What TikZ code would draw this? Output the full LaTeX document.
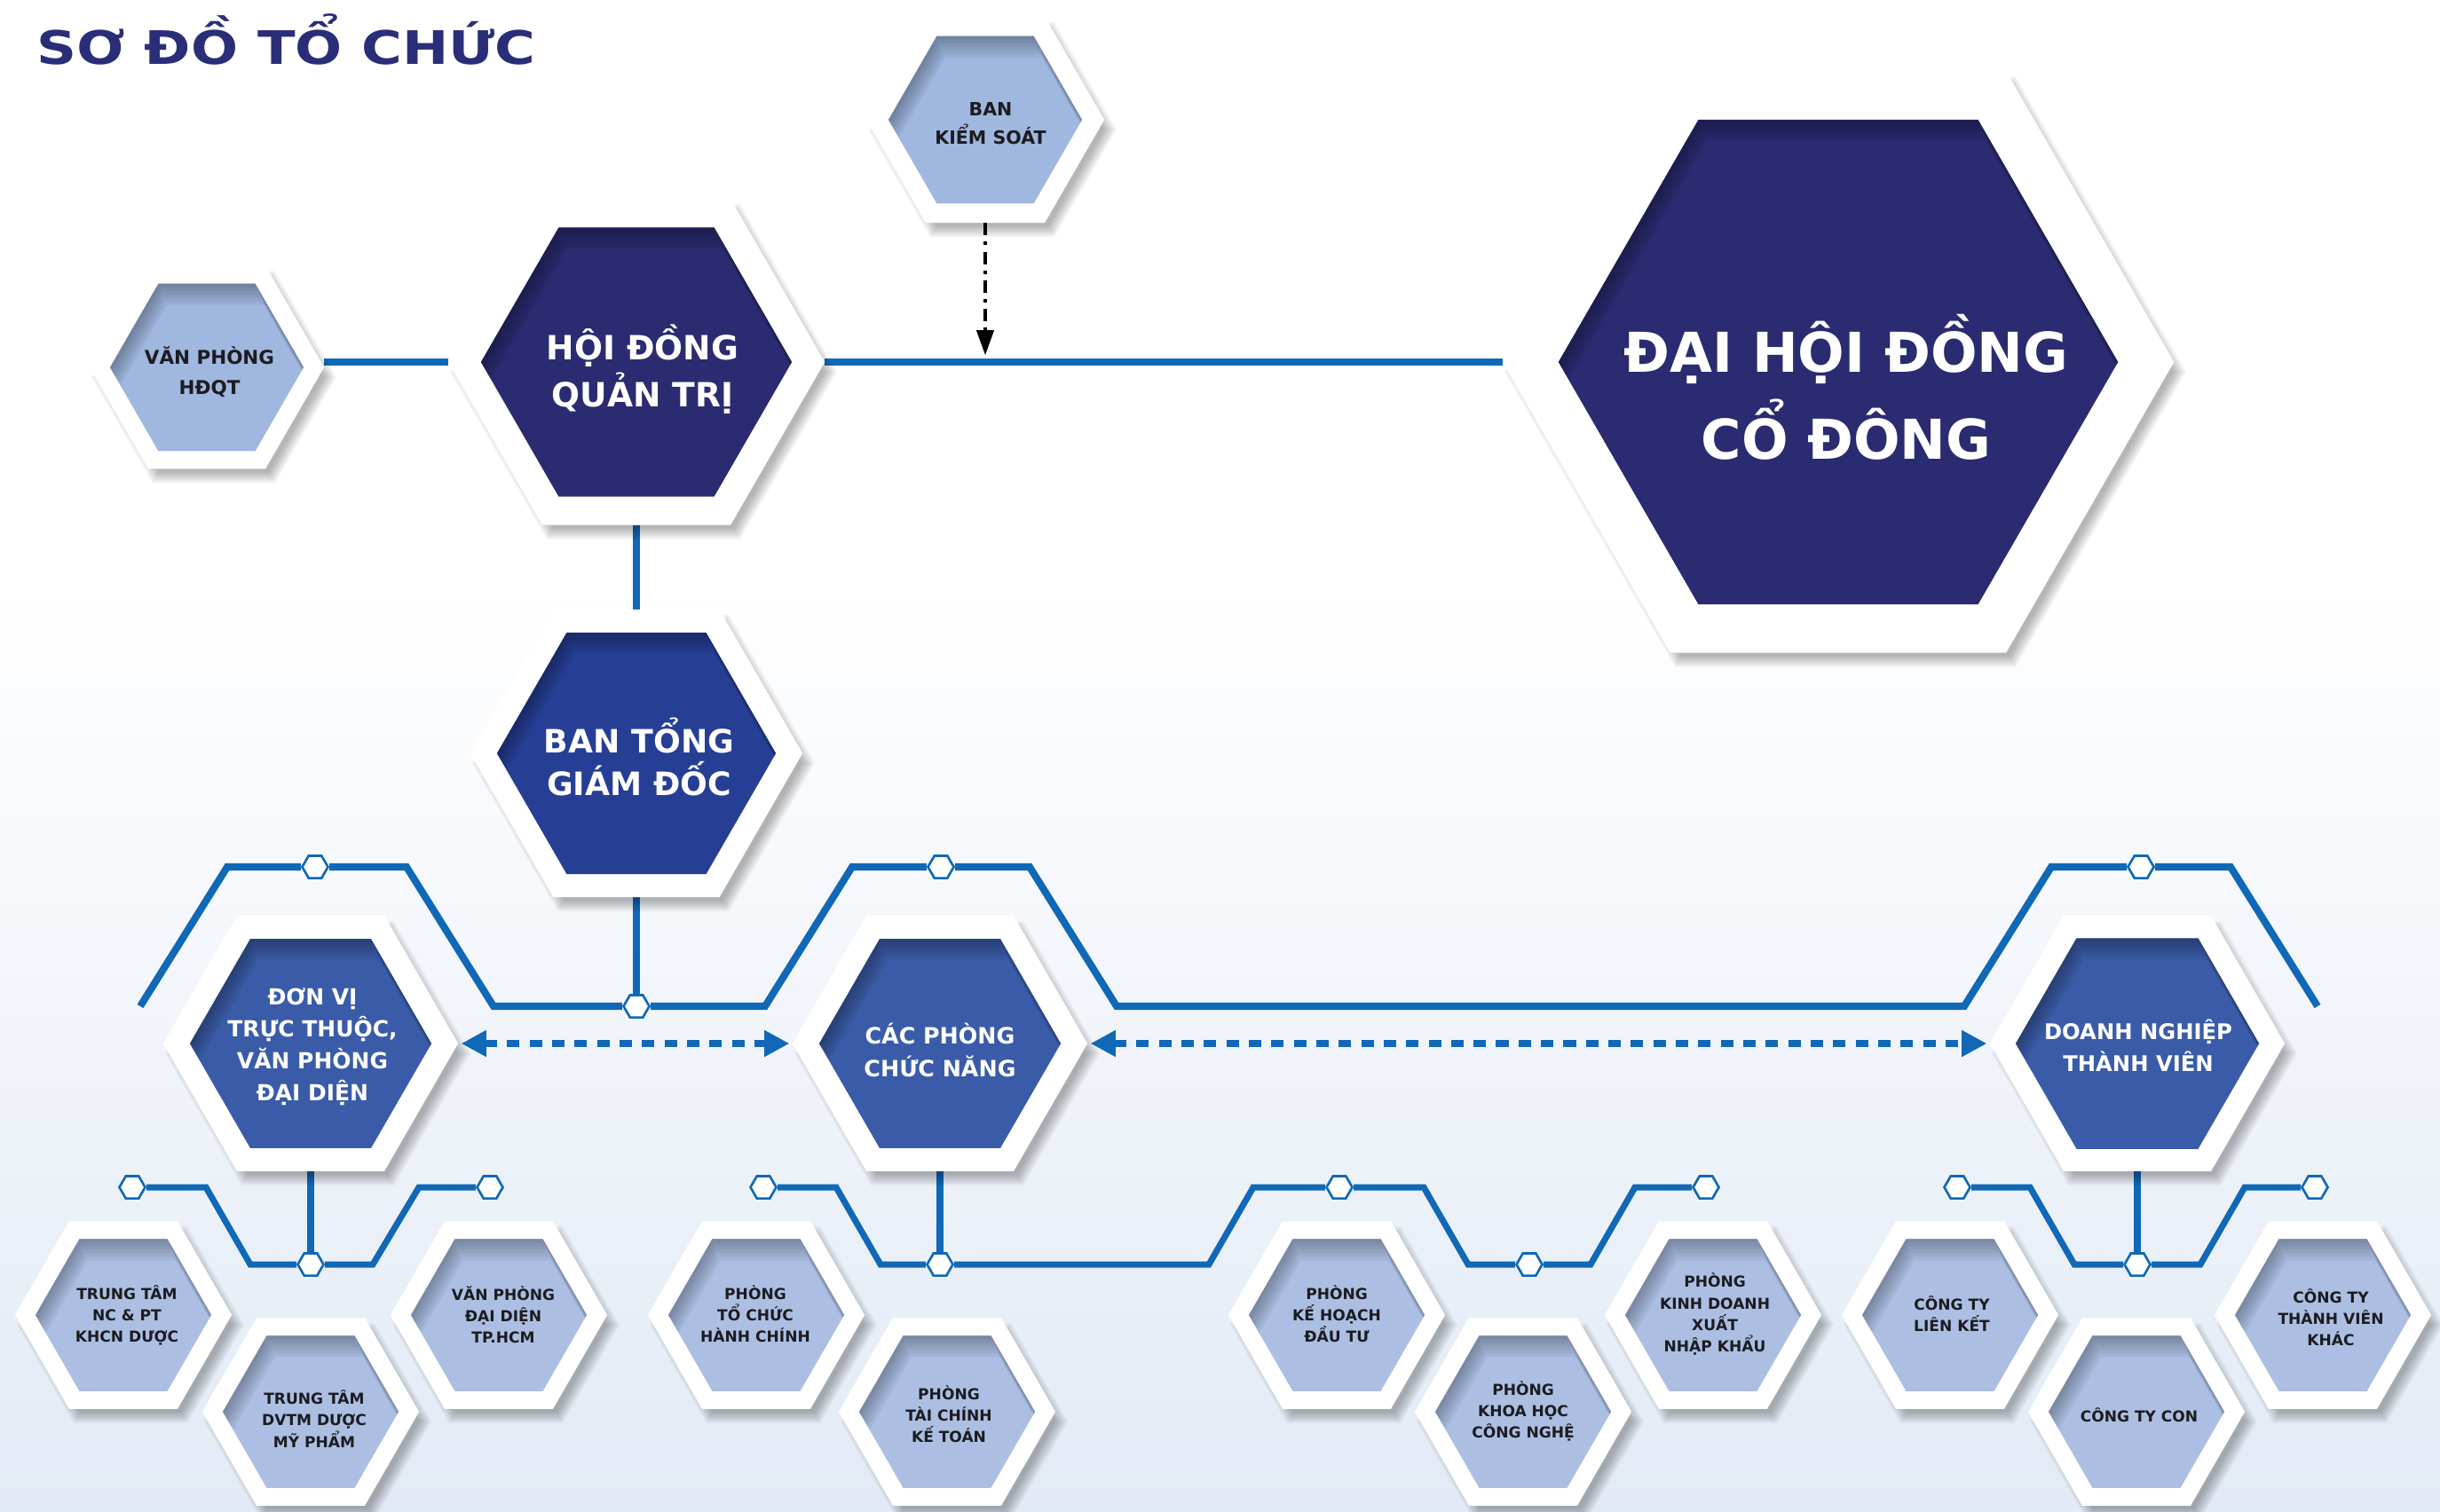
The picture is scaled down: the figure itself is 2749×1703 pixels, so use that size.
\documentclass[tikz,border=0pt]{standalone}
\usepackage{fontspec}
\setmainfont{DejaVu Sans}
\newfontfamily\titlefont{DejaVu Sans}[FakeStretch=1.2]
\usetikzlibrary{shapes.geometric,arrows.meta}
\pgfdeclarelayer{back}
\pgfdeclarelayer{lines}
\pgfsetlayers{back,lines,main}

\definecolor{navy}{RGB}{42,43,112}
\definecolor{royal}{RGB}{38,63,149}
\definecolor{midblue}{RGB}{58,92,168}
\definecolor{lightA}{RGB}{160,183,224}
\definecolor{lightB}{RGB}{172,191,227}
\definecolor{lineblue}{RGB}{16,104,182}
\definecolor{titlecol}{RGB}{42,46,120}
\definecolor{darktext}{RGB}{28,28,32}
\definecolor{bgblue}{RGB}{226,234,245}

% hexagon path, flat top/bottom, in pixel units
\newcommand\hexp[3]{({#1+(#3)},{#2}) -- ({#1+0.5*(#3)},{#2+0.866*(#3)}) -- ({#1-0.5*(#3)},{#2+0.866*(#3)}) -- ({#1-(#3)},{#2}) -- ({#1-0.5*(#3)},{#2-0.866*(#3)}) -- ({#1+0.5*(#3)},{#2-0.866*(#3)}) -- cycle}

\tikzset{
  hexo/.style={regular polygon, regular polygon sides=6, fill=white, inner sep=0pt, outer sep=0pt},
  hexi/.style={regular polygon, regular polygon sides=6, inner sep=0pt, outer sep=0pt},
  wtext/.style={text=white, align=center, inner sep=0pt},
  btext/.style={text=darktext, align=center, inner sep=0pt, font=\bfseries\fontsize{4.85pt}{6.85pt}\selectfont},
  conn/.style={draw=lineblue, line width=2.3pt},
  connlow/.style={draw=lineblue, line width=2pt},
  dasharrow/.style={draw=lineblue, line width=2.4pt, dash pattern=on 4pt off 3.2pt,
     {Triangle[length=8pt,width=8pt]}-{Triangle[length=8pt,width=8pt]}, shorten <=1pt, shorten >=1pt},
  ctrlarrow/.style={draw=black, line width=0.9pt, dash pattern=on 4pt off 2pt on 1.2pt off 2pt,
     -{Triangle[length=8pt,width=5.5pt]}, shorten >=2.2pt},
  smallhex/.style={regular polygon, regular polygon sides=6, minimum size=0.29cm, fill=white,
     draw=lineblue, line width=0.75pt, inner sep=0pt},
}

% name, cx, cy, Rout, Rin, colour
\newcommand\hexnode[6]{%
  \foreach \kk in {0,...,7}{\fill[black,opacity=0.04] \hexp{#2+8}{#3+11}{#4+6-2*\kk};}
  \pgfmathsetmacro\dout{0.02*#4}\pgfmathsetmacro\din{0.02*#5}
  \node[hexo, minimum size=\dout cm] (#1) at (#2,#3) {};
  \node[hexi, fill=#6, minimum size=\din cm] (#1-in) at (#2,#3) {};
  \begin{scope}
    \clip \hexp{#2}{#3}{#5};
    \foreach \sh in {4,8,...,24}{\fill[black,opacity=0.05,even odd rule] \hexp{#2}{#3}{#5+60} \hexp{#2+0.4*\sh}{#3+\sh}{#5};}
  \end{scope}
}

\begin{document}
\begin{tikzpicture}[x=0.01cm,y=-0.01cm]
\useasboundingbox (0,0) rectangle (2749,1703);
\begin{pgfonlayer}{back}
  \fill[white] (0,0) rectangle (2749,1703);
  \shade[top color=white,bottom color=bgblue] (0,650) rectangle (2749,1703);
\end{pgfonlayer}

% title
\node[anchor=base west, inner sep=0pt, text=titlecol,
      font=\titlefont\bfseries\fontsize{14.8pt}{17pt}\selectfont] (title) at (41,73) {SƠ ĐỒ TỔ CHỨC};

% top level
\hexnode{vphdqt}{233}{414}{132}{109}{lightA}
\node[btext, font=\bfseries\fontsize{6.1pt}{9.6pt}\selectfont] (vphdqt-t) at (236,419) {VĂN PHÒNG\\HĐQT};
\hexnode{bks}{1110}{135}{134}{109}{lightA}
\node[btext, font=\bfseries\fontsize{5.85pt}{9.1pt}\selectfont] (bks-t) at (1116,139) {BAN\\KIỂM SOÁT};
\hexnode{hdqt}{717}{408}{212}{175}{navy}
\node[wtext, font=\bfseries\fontsize{10.7pt}{15.1pt}\selectfont] (hdqt-t) at (724,416) {HỘI ĐỒNG\\QUẢN TRỊ};
\hexnode{dhdcd}{2071}{408}{378}{315}{navy}
\node[wtext, font=\bfseries\fontsize{17.6pt}{27.9pt}\selectfont] (dhdcd-t) at (2080,436) {ĐẠI HỘI ĐỒNG\\CỔ ĐÔNG};
\hexnode{btgd}{717}{849}{187}{157}{royal}
\node[wtext, font=\bfseries\fontsize{10.3pt}{13.7pt}\selectfont] (btgd-t) at (720,853) {BAN TỔNG\\GIÁM ĐỐC};

% middle level
\hexnode{donvi}{350}{1176}{166}{136}{midblue}
\node[wtext, font=\bfseries\fontsize{7.1pt}{10.24pt}\selectfont] (donvi-t) at (352,1180) {ĐƠN VỊ\\TRỰC THUỘC,\\VĂN PHÒNG\\ĐẠI DIỆN};
\hexnode{cacphong}{1059}{1176}{166}{136}{midblue}
\node[wtext, font=\bfseries\fontsize{7.2pt}{10.5pt}\selectfont] (cacphong-t) at (1059,1183) {CÁC PHÒNG\\CHỨC NĂNG};
\hexnode{dn}{2408}{1176}{166}{137}{midblue}
\node[wtext, font=\bfseries\fontsize{6.9pt}{10.24pt}\selectfont] (dn-t) at (2409,1178) {DOANH NGHIỆP\\THÀNH VIÊN};

% bottom level
\hexnode{ttnc}{139}{1482}{122}{99}{lightB}
\node[btext] (ttnc-t) at (143,1482) {TRUNG TÂM\\NC \& PT\\KHCN DƯỢC};
\hexnode{ttdv}{350}{1591}{122}{99}{lightB}
\node[btext] (ttdv-t) at (354,1599) {TRUNG TÂM\\DVTM DƯỢC\\MỸ PHẨM};
\hexnode{vphcm}{562}{1482}{122}{99}{lightB}
\node[btext] (vphcm-t) at (567,1482) {VĂN PHÒNG\\ĐẠI DIỆN\\TP.HCM};
\hexnode{ptchc}{852}{1482}{122}{99}{lightB}
\node[btext] (ptchc-t) at (851,1481) {PHÒNG\\TỔ CHỨC\\HÀNH CHÍNH};
\hexnode{ptckt}{1067}{1591}{122}{99}{lightB}
\node[btext] (ptckt-t) at (1069,1594) {PHÒNG\\TÀI CHÍNH\\KẾ TOÁN};
\hexnode{pkhdt}{1506}{1482}{122}{99}{lightB}
\node[btext] (pkhdt-t) at (1506,1481) {PHÒNG\\KẾ HOẠCH\\ĐẦU TƯ};
\hexnode{pkhcn}{1716}{1591}{122}{99}{lightB}
\node[btext] (pkhcn-t) at (1716,1590) {PHÒNG\\KHOA HỌC\\CÔNG NGHỆ};
\hexnode{pkd}{1930}{1482}{122}{99}{lightB}
\node[btext] (pkd-t) at (1932,1481) {PHÒNG\\KINH DOANH\\XUẤT\\NHẬP KHẨU};
\hexnode{ctlk}{2197}{1482}{122}{99}{lightB}
\node[btext] (ctlk-t) at (2199,1481) {CÔNG TY\\LIÊN KẾT};
\hexnode{ctc}{2407}{1591}{122}{99}{lightB}
\node[btext] (ctc-t) at (2410,1595) {CÔNG TY CON};
\hexnode{cttv}{2617}{1482}{122}{99}{lightB}
\node[btext] (cttv-t) at (2626,1485) {CÔNG TY\\THÀNH VIÊN\\KHÁC};

% small hexagon joints
\node[smallhex] (t1) at (355,977) {};
\node[smallhex] (t2) at (1060,977) {};
\node[smallhex] (t3) at (2412,977) {};
\node[smallhex] (j1) at (717,1134) {};
\node[smallhex] (j3) at (350,1425) {};
\node[smallhex] (j4) at (1059,1425) {};
\node[smallhex] (j5) at (2408,1425) {};
\node[smallhex] (l1) at (149,1338) {};
\node[smallhex] (l2) at (552,1338) {};
\node[smallhex] (l3) at (860,1338) {};
\node[smallhex] (l4) at (1509,1338) {};
\node[smallhex] (l5) at (1723,1425) {};
\node[smallhex] (l6) at (1922,1338) {};
\node[smallhex] (l7) at (2205,1338) {};
\node[smallhex] (l8) at (2608,1338) {};
\coordinate (tb0) at (158,1134);
\coordinate (tb1) at (2611,1134);

% connectors
\begin{pgfonlayer}{lines}
  \draw[conn] (hdqt.west) -- (hdqt.west -| vphdqt.east);
  \draw[conn] (hdqt.east) -- (dhdcd.west);
  \draw[conn] (hdqt.south) -- (btgd.north);
  \draw[conn] (btgd.south) -- (j1);
  \draw[conn] (tb0) -- (256,977) -- (t1) -- (458,977) -- (556,1134) -- (j1) -- (862,1134)
     -- (960,977) -- (t2) -- (1160,977) -- (1258,1134) -- (2213,1134) -- (2311,977) -- (t3)
     -- (2513,977) -- (tb1);
  \draw[conn] (donvi.south) -- (j3);
  \draw[conn] (cacphong.south) -- (j4);
  \draw[conn] (dn.south) -- (j5);
  \draw[connlow] (l1) -- (232,1338) -- (282,1425) -- (j3) -- (420,1425) -- (472,1338) -- (l2);
  \draw[connlow] (l3) -- (942,1338) -- (992,1425) -- (j4) -- (1362,1425) -- (1412,1338) -- (l4)
     -- (1604,1338) -- (1654,1425) -- (l5) -- (1792,1425) -- (1842,1338) -- (l6);
  \draw[connlow] (l7) -- (2287,1338) -- (2337,1425) -- (j5) -- (2479,1425) -- (2529,1338) -- (l8);
\end{pgfonlayer}

\draw[ctrlarrow] (bks.south) -- (bks.south |- hdqt.east);
\draw[dasharrow] (donvi.east) -- (cacphong.west);
\draw[dasharrow] (cacphong.east) -- (dn.west);
\end{tikzpicture}
\end{document}
